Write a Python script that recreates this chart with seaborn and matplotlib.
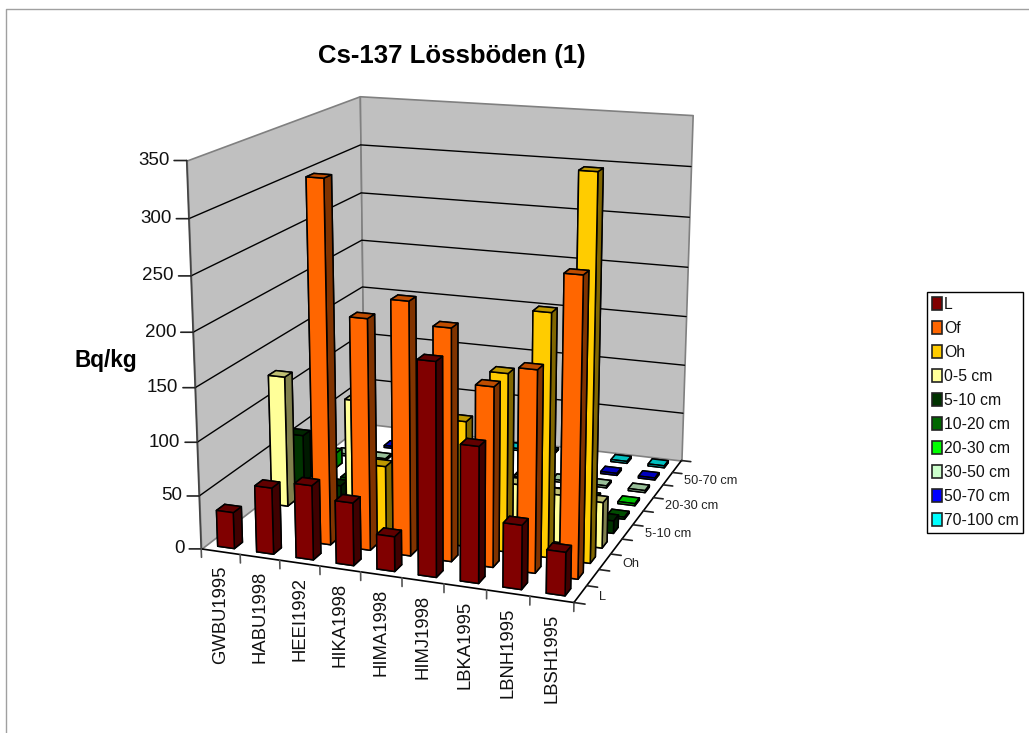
import numpy as np
import matplotlib
matplotlib.use("Agg")
import matplotlib.pyplot as plt
import seaborn as sns
from matplotlib.colors import to_rgb
from matplotlib.lines import Line2D
from matplotlib.patches import Patch
from mpl_toolkits.mplot3d import proj3d
from mpl_toolkits.mplot3d.art3d import Poly3DCollection

nan = float("nan")
sites = ["GWBU1995", "HABU1998", "HEEI1992", "HIKA1998", "HIMA1998",
         "HIMJ1998", "LBKA1995", "LBNH1995", "LBSH1995"]
layers = ["L", "Of", "Oh", "0-5 cm", "5-10 cm", "10-20 cm", "20-30 cm",
          "30-50 cm", "50-70 cm", "70-100 cm"]
axis_layers = ["L", "Oh", "5-10 cm", "20-30 cm", "50-70 cm"]
z_ticks = [0, 50, 100, 150, 200, 250, 300, 350]

v_L     = [34, 62, 69, 58, 32, 193, 123, 58, 39]
v_Of    = [nan, nan, 333, 213, 232, 212, 164, 183, 268]
v_Oh    = [nan, nan, nan, 66, 145, 117, 165, 223, 347]
v_05    = [127, 30, 112, 20, 20, 20, 50, 45, 43]
v_510   = [58, 12, nan, nan, nan, nan, 8, 8, 12]
v_1020  = [40, 6, nan, nan, nan, nan, 2, 2, 2]
v_2030  = [15, nan, nan, nan, nan, nan, 2, 2, 2]
v_3050  = [2, 2, nan, nan, nan, 2, 2, 2, 2]
v_5070  = [nan, 2, nan, nan, 2, 2, nan, 2, 2]
v_70100 = [nan, nan, nan, nan, 2, 2, nan, 2, 2]
series = [v_L, v_Of, v_Oh, v_05, v_510, v_1020, v_2030, v_3050, v_5070, v_70100]

colors = sns.color_palette(["#800000", "#FF6600", "#FFCC00", "#FFFF99", "#003300",
                            "#006600", "#00FF00", "#CCFFCC", "#0000FF", "#00FFFF"])

sns.set_theme(style="white")
plt.rcParams["font.family"] = ["Liberation Sans", "DejaVu Sans"]
W, H = 1029, 733
fig = plt.figure(figsize=(W / 100, H / 100), dpi=100, facecolor="white")

# outer chart border
fig.add_artist(Line2D([6 / W, 6 / W, 1], [0, 1 - 9 / H, 1 - 9 / H], color="#a0a0a0", lw=1))

ax = fig.add_axes([48 / W, 1 - 632 / H, 800 / W, 600 / H], projection="3d")
ax.computed_zorder = False
ax.set_proj_type("persp", focal_length=0.6)
ax.view_init(elev=15.4, azim=-70)
nx, ny, zmax = len(sites), len(layers), z_ticks[-1]
ax.set_xlim(0, nx); ax.set_ylim(0, ny); ax.set_zlim(0, zmax)
ax.set_box_aspect((365, 398, 370), zoom=1.085)
ax.set_axis_off()
ax.patch.set_alpha(0)


def label(x, y, z, s, **kw):
    """Text placed at a projected 3D point, keeping its own rotation."""
    px, py, _ = proj3d.proj_transform(x, y, z, ax.get_proj())
    ax.text2D(px, py, s, transform=ax.transData, zorder=500, **kw)


# floor and walls
floor = [[(0, 0, 0), (nx, 0, 0), (nx, ny, 0), (0, ny, 0)]]
left = [[(0, 0, 0), (0, ny, 0), (0, ny, zmax), (0, 0, zmax)]]
back = [[(0, ny, 0), (nx, ny, 0), (nx, ny, zmax), (0, ny, zmax)]]
ax.add_collection3d(Poly3DCollection(floor, facecolor="white", edgecolor="none", zorder=1))
ax.add_collection3d(Poly3DCollection(left, facecolor="#C0C0C0", edgecolor="#808080", lw=1.2, zorder=1))
ax.add_collection3d(Poly3DCollection(back, facecolor="#C0C0C0", edgecolor="#808080", lw=1.2, zorder=1))
for z in z_ticks[1:-1]:
    ax.plot([0, 0, nx], [0, ny, ny], [z, z, z], color="black", lw=1, zorder=2)

# axis lines and ticks
AX = dict(color="#222222", lw=1.2, zorder=3)
ax.plot([0, nx], [0, 0], [0, 0], color="black", lw=1.2, zorder=3)
ax.plot([nx, nx], [0, ny], [0, 0], color="black", lw=1.2, zorder=3)
ax.plot([0, 0], [0, 0], [0, zmax], color="#444444", lw=1.2, zorder=3)
for z in z_ticks:
    ax.plot([0, -0.26], [0, -0.096], [z, z], **AX)
    label(-0.36, -0.13, z, str(z), ha="right", va="center", fontsize=13.5, color="#111111")
for i in range(nx + 1):
    ax.plot([i, i], [0, 0], [0, -8], color="#555555", lw=1.2, zorder=3)
for i, s in enumerate(sites):
    label(i + 0.5, 0, -13, s, rotation=90, ha="center", va="top", fontsize=13.3, color="#111111")
for j in range(ny + 1):
    ax.plot([nx, nx + 0.25], [j, j], [0, 0], **AX)
for k, lab in enumerate(axis_layers):
    label(nx + 0.42, 2 * k + 0.5, 0, lab, ha="left", va="center", fontsize=9.2, color="#222222")

# bars, painted back to front
w, d = 0.43, 0.43
for j in range(ny - 1, -1, -1):
    base = np.array(to_rgb(colors[j]))
    faces = [base * 0.75, base * 0.75, base, base * 0.5, base * 0.5, base * 0.5]
    for i in range(nx):
        val = series[j][i]
        if np.isnan(val):
            continue
        ax.bar3d(i + 0.5 - w / 2, j + 0.5 - d / 2, 0, w, d, val, color=faces, shade=False,
                 edgecolor="black", linewidth=1.1, zorder=10 + (ny - j) * 20 + i)

fig.text(452 / W, 1 - 56 / H, "Cs-137 Lössböden (1)", ha="center", va="center",
         fontsize=18.5, fontweight="bold", color="black")
fig.text(106 / W, 1 - 360 / H, "Bq/kg", ha="center", va="center",
         fontsize=16.3, fontweight="bold", color="black")

handles = [Patch(facecolor=c, edgecolor="#222222", linewidth=1.2) for c in colors]
fig.legend(handles, layers, loc="upper left", bbox_to_anchor=(927 / W, 1 - 292 / H),
           borderaxespad=0, frameon=True, fancybox=False, edgecolor="black", framealpha=1,
           fontsize=11.3, handlelength=0.65, handleheight=0.85, handletextpad=0.12,
           labelspacing=0.575, borderpad=0.3, labelcolor="#111111")
fig.savefig("out.png", dpi=100, facecolor="white")
